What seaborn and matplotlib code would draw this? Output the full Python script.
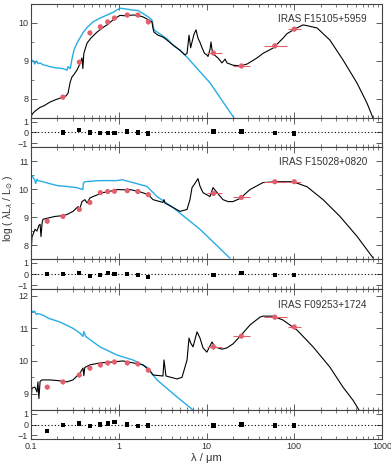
import numpy as np
import matplotlib
matplotlib.use("Agg")
import matplotlib.pyplot as plt
import seaborn as sns
from matplotlib.ticker import LogLocator, NullFormatter, FixedLocator

# ---- data (wavelength in micron, log L) ----
names = ["IRAS F15105+5959", "IRAS F15028+0820", "IRAS F09253+1724"]

# panel 1
model1_wl = [0.100, 0.103, 0.111, 0.127, 0.14, 0.165, 0.19, 0.232, 0.25, 0.264, 0.28, 0.293, 0.31, 0.334,
             0.36, 0.381, 0.39, 0.40, 0.435, 0.48, 0.565, 0.66, 0.735, 0.86, 1.03, 1.2, 1.45, 1.65, 1.89,
             2.2, 2.39, 2.46, 2.52, 2.8, 3.19, 3.55, 4.15, 5.0, 5.69, 6.0, 6.32, 6.6, 6.84, 7.2, 7.59, 8.0,
             8.4, 8.89, 9.5, 10.1, 10.4, 10.96, 11.25, 11.55, 12.0, 13.5, 15.0, 16.3, 17.1, 20.0, 24.1,
             29.0, 37.6, 44, 57.3, 74.5, 82.7, 107, 126, 140, 182, 255, 359, 519, 675, 790]
model1_lum = [7.5, 7.6, 7.68, 7.78, 7.82, 7.92, 7.98, 8.05, 8.08, 8.15, 8.45, 8.58, 8.65, 8.76,
              8.92, 9.08, 8.8, 9.2, 9.47, 9.6, 9.76, 9.88, 9.95, 10.08, 10.2, 10.19, 10.21, 10.2, 10.16,
              10.08, 10.03, 9.85, 9.76, 9.68, 9.63, 9.55, 9.42, 9.28, 9.16, 9.2, 9.68, 9.35, 9.5, 9.7, 9.82, 9.6,
              9.5, 9.35, 9.2, 9.16, 9.12, 9.3, 9.5, 9.3, 9.18, 9.08, 8.95, 9.05, 8.95, 8.89, 8.87,
              8.92, 9.08, 9.2, 9.34, 9.6, 9.72, 9.87, 9.95, 9.93, 9.87, 9.55, 9.03, 8.42, 7.89, 7.5]
star1_wl = [0.100, 0.105, 0.11, 0.115, 0.12, 0.127, 0.137, 0.15, 0.165, 0.19, 0.232, 0.257, 0.264, 0.28,
            0.293, 0.31, 0.334, 0.36, 0.39, 0.435, 0.509, 0.6, 0.735, 0.86, 1.03, 1.2, 1.45, 1.65, 1.89,
            2.2, 2.39, 2.52, 3.0, 3.55, 4.15, 5.0, 6.0, 11.0, 20.6]
star1_lum = [8.97, 9.02, 8.92, 9.0, 8.93, 8.95, 8.9, 8.88, 8.85, 8.82, 8.8, 8.76, 8.85, 8.8,
             9.05, 9.3, 9.47, 9.6, 9.74, 9.88, 10.03, 10.12, 10.21, 10.28, 10.39, 10.37, 10.34, 10.33, 10.25,
             10.15, 10.08, 9.82, 9.7, 9.58, 9.42, 9.28, 9.1, 8.42, 7.5]
phot1_wl = [0.231, 0.355, 0.469, 0.617, 0.748, 0.893, 1.25, 1.65, 2.17, 12, 25, 60, 100]
phot1_lum = [8.05, 8.97, 9.74, 9.9, 10.03, 10.13, 10.21, 10.21, 10.03, 9.21, 8.87, 9.4, 9.84]
resid1 = [0.0, 0.2, 0.0, -0.05, -0.05, -0.05, 0.1, 0.0, -0.1, 0.1, 0.1, -0.05, -0.1]

# panel 2
model2_wl = [0.100, 0.1026, 0.111, 0.117, 0.123, 0.127, 0.13, 0.134, 0.137, 0.165, 0.188, 0.232, 0.257,
             0.301, 0.343, 0.36, 0.381, 0.412, 0.435, 0.47, 0.509, 0.661, 0.8, 0.955, 1.2, 1.343, 1.746,
             2.155, 2.46, 3.19, 3.28, 3.35, 4.15, 4.99, 6.0, 6.48, 6.84, 7.39, 8.0, 8.43, 9.12, 10.96,
             11.86, 13.2, 15.4, 17.6, 20.0, 24.1, 31.3, 44, 63.6, 96.8, 140, 213, 332, 519, 790]
model2_lum = [7.6, 8.28, 8.56, 8.5, 8.7, 8.74, 8.3, 8.8, 8.92, 8.98, 9.02, 9.05, 9.09,
              9.2, 9.37, 9.3, 9.55, 9.62, 9.5, 9.68, 9.73, 9.87, 9.92, 9.98, 9.97, 9.98, 9.9,
              9.8, 9.62, 9.52, 9.62, 9.5, 9.34, 9.2, 9.27, 9.62, 10.05, 10.2, 10.37, 10.1, 9.87, 9.73,
              10.05, 9.87, 9.62, 9.55, 9.55, 9.66, 9.98, 10.23, 10.26, 10.26, 10.08, 9.62, 9.02, 8.31, 7.54]
star2_wl = [0.100, 0.104, 0.11, 0.113, 0.117, 0.12, 0.137, 0.16, 0.2, 0.257, 0.33, 0.39, 0.395, 0.41,
            0.5, 0.6, 0.8, 0.955, 1.09, 1.45, 2.1, 2.73, 4.15, 8.43, 18.5]
star2_lum = [10.5, 10.45, 10.33, 10.2, 10.35, 10.3, 10.26, 10.2, 10.12, 10.09, 10.05, 9.98, 10.2, 10.26,
             10.28, 10.3, 10.3, 10.3, 10.33, 10.23, 10.09, 9.73, 9.34, 8.56, 7.53]
phot2_wl = [0.153, 0.231, 0.355, 0.469, 0.617, 0.748, 0.893, 1.25, 1.65, 2.17, 12, 25, 60, 100]
phot2_lum = [8.85, 9.02, 9.27, 9.52, 9.87, 9.91, 9.92, 9.94, 9.91, 9.8, 9.84, 9.7, 10.26, 10.26]
resid2 = [0.0, 0.0, 0.1, -0.2, -0.1, 0.1, 0.0, 0.0, -0.1, -0.25, -0.1, 0.1, -0.1, -0.1]

# panel 3
model3_wl = [0.100, 0.1026, 0.111, 0.117, 0.120, 0.123, 0.127, 0.134, 0.165, 0.2, 0.257, 0.301, 0.362,
             0.391, 0.40, 0.41, 0.47, 0.611, 0.86, 1.118, 1.453, 1.889, 2.27, 2.46, 3.19, 3.28, 3.45,
             4.61, 5.26, 6.0, 6.32, 6.6, 7.02, 7.8, 8.43, 9.12, 10.1, 11.55, 12.5, 15.0, 17.1, 20.0,
             24.1, 31.3, 40.7, 44, 57.3, 74.5, 107, 164, 255, 359, 467, 547]
model3_lum = [8.8, 9.17, 9.2, 9.05, 9.36, 8.85, 9.38, 9.42, 9.42, 9.4, 9.36, 9.42, 9.63,
              9.78, 9.55, 9.8, 9.88, 9.94, 9.97, 10.0, 9.94, 9.88, 9.69, 9.57, 9.54, 10.03, 9.54,
              9.45, 9.5, 10.03, 10.7, 10.55, 10.43, 10.89, 10.7, 10.4, 10.27, 10.58, 10.43, 10.36, 10.4, 10.52,
              10.75, 11.1, 11.34, 11.37, 11.37, 11.25, 10.95, 10.43, 9.81, 9.2, 8.8, 8.5]
star3_wl = [0.100, 0.105, 0.11, 0.115, 0.12, 0.137, 0.16, 0.214, 0.3, 0.362, 0.39, 0.40, 0.42, 0.611,
            0.955, 1.45, 2.1, 2.73, 4.61, 7.02]
star3_lum = [11.56, 11.5, 11.52, 11.42, 11.45, 11.4, 11.3, 11.19, 11.0, 10.85, 10.75, 10.9, 10.75, 10.43,
             10.18, 10.03, 9.81, 9.42, 8.9, 8.5]
phot3_wl = [0.153, 0.231, 0.355, 0.469, 0.617, 0.748, 0.893, 1.25, 1.65, 2.17, 12, 25, 60, 100]
phot3_lum = [9.2, 9.36, 9.57, 9.78, 9.88, 9.94, 9.97, 9.94, 9.91, 9.72, 10.43, 10.76, 11.34, 11.04]
resid3 = [-0.6, -0.05, 0.1, -0.15, 0.0, 0.1, 0.2, 0.0, -0.15, -0.1, -0.1, 0.0, -0.1, -0.1]

# IRAS band edges (micron) for horizontal bars
iras_lo = {12: 10.0, 25: 20.0, 60: 45.0, 100: 85.0}
iras_hi = {12: 15.0, 25: 31.0, 60: 82.0, 100: 120.0}

ylims = [(7.5, 10.5), (7.5, 11.5), (8.5, 12.2)]
yticks = [[8, 9, 10], [8, 9, 10, 11], [9, 10, 11, 12]]

panels = [
    (model1_wl, model1_lum, star1_wl, star1_lum, phot1_wl, phot1_lum, resid1),
    (model2_wl, model2_lum, star2_wl, star2_lum, phot2_wl, phot2_lum, resid2),
    (model3_wl, model3_lum, star3_wl, star3_lum, phot3_wl, phot3_lum, resid3),
]

sns.set_style("ticks")
plt.rcParams["font.family"] = ["Liberation Sans", "DejaVu Sans"]
plt.rcParams["axes.linewidth"] = 0.8
plt.rcParams["axes.edgecolor"] = "#444444"

W, H = 391, 473
fig = plt.figure(figsize=(W / 100, H / 100), dpi=100)

# pixel extents (top, bottom) of main / residual axes
main_px = [(4, 118), (147, 259), (289, 410)]
res_px = [(118, 147), (259, 289), (410, 439)]
x0, x1 = 31, 382

BLUE = "#27ace6"
RED = "#e2606e"


def style_x(ax, labels):
    ax.set_xscale("log")
    ax.set_xlim(0.1, 1000)
    ax.xaxis.set_major_locator(FixedLocator([0.1, 1, 10, 100, 1000]))
    ax.xaxis.set_minor_locator(LogLocator(base=10, subs=np.arange(2, 10)))
    ax.xaxis.set_minor_formatter(NullFormatter())
    if labels:
        ax.set_xticklabels(["0.1", "1", "10", "100", "1000"])
    else:
        ax.set_xticklabels([])
    ax.tick_params(which="both", direction="in", top=True, right=True,
                   labelsize=6.5, colors="#444444", labelcolor="#333333", pad=2)
    ax.tick_params(which="major", length=4, width=0.6)
    ax.tick_params(which="minor", length=2, width=0.5)


for i, (mwl, mlum, swl, slum, pwl, plum, res) in enumerate(panels):
    t, b = main_px[i]
    ax = fig.add_axes([x0 / W, 1 - b / H, (x1 - x0) / W, (b - t) / H])
    sns.lineplot(x=swl, y=slum, ax=ax, color=BLUE, lw=1.0, sort=False, estimator=None)
    sns.lineplot(x=mwl, y=mlum, ax=ax, color="black", lw=0.8, sort=False, estimator=None)

    xerr_lo = [w - iras_lo[w] if w in iras_lo else w * 0.04 for w in pwl]
    xerr_hi = [iras_hi[w] - w if w in iras_hi else w * 0.04 for w in pwl]
    ax.errorbar(pwl, plum, xerr=[xerr_lo, xerr_hi], yerr=0.06, fmt="none",
                ecolor=RED, elinewidth=0.8, capsize=0, zorder=4)
    sns.scatterplot(x=pwl, y=plum, ax=ax, color=RED, s=14, edgecolor="none", zorder=5)

    style_x(ax, False)
    ax.set_ylim(*ylims[i])
    ax.set_yticks(yticks[i])
    ax.set_yticks(np.arange(ylims[i][0], ylims[i][1] + 0.01, 0.5), minor=True)
    ax.set_xlabel("")
    ax.set_ylabel("")
    ax.text(0.957, 0.865, names[i], transform=ax.transAxes, ha="right", va="center",
            fontsize=7.2, color="#333333")

    t, b = res_px[i]
    rax = fig.add_axes([x0 / W, 1 - b / H, (x1 - x0) / W, (b - t) / H])
    rax.axhline(0, color="black", ls=(0, (1, 2)), lw=0.8)
    sns.scatterplot(x=pwl, y=res, ax=rax, color="black", marker="s", s=9, edgecolor="none", zorder=5)
    style_x(rax, i == 2)
    rax.set_ylim(-1.35, 1.35)
    rax.set_yticks([-1, 0, 1])
    rax.set_yticks([], minor=True)
    rax.set_xlabel("")
    rax.set_ylabel("")

fig.text(8 / W, 1 - 208 / H, r"log ( λL$_{\lambda}$ / L$_{\odot}$ )", rotation=90,
         ha="center", va="center", fontsize=7.5, color="#333333")
fig.text(206 / W, 1 - 458 / H, "λ / μm", ha="center", va="center", fontsize=8, color="#333333")

fig.savefig("out.png", dpi=100)
